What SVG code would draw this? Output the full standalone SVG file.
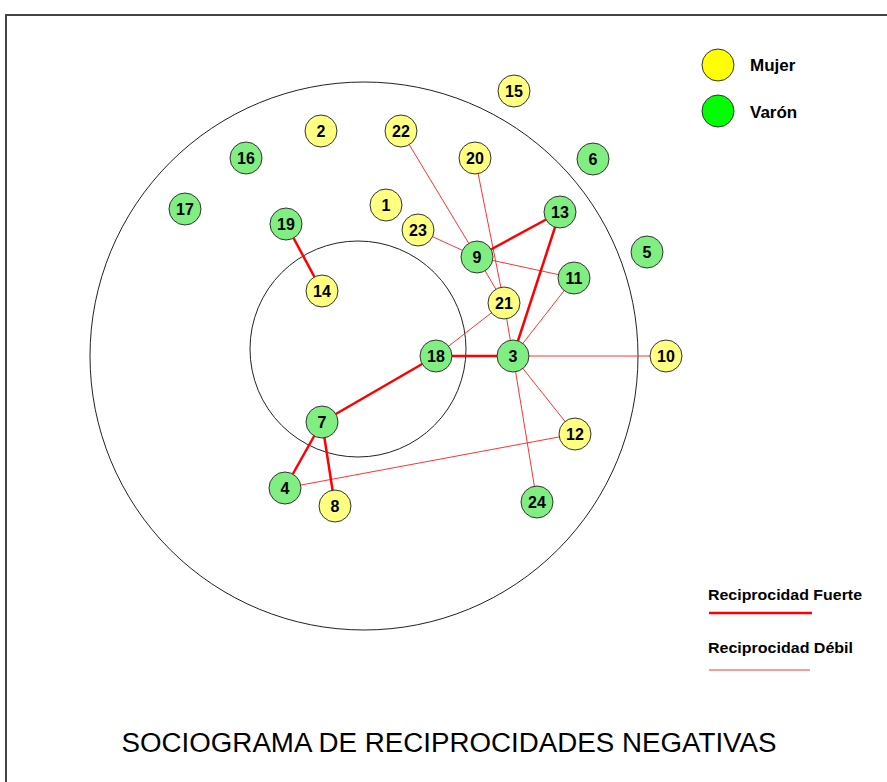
<svg xmlns="http://www.w3.org/2000/svg" width="887" height="782" viewBox="0 0 887 782">
<style>
.ring{fill:none;stroke:#222;stroke-width:1}
.m{fill:#FFFF80;stroke:#333;stroke-width:1}
.v{fill:#80EE80;stroke:#333;stroke-width:1}
.lbl{font-family:"Liberation Sans",Arial,sans-serif;font-weight:bold;font-size:16px;text-anchor:middle;fill:#000}
.strong{stroke:#FF0000;stroke-width:2.5;fill:none}
.weak{stroke:#FF3333;stroke-width:1;fill:none}
.leg{font-family:"Liberation Sans",Arial,sans-serif;font-weight:bold;font-size:17px;fill:#000}
.leg2{font-family:"Liberation Sans",Arial,sans-serif;font-weight:bold;font-size:15px;fill:#000}
</style>
<rect x="0" y="0" width="887" height="782" fill="#fff"/>
<path d="M6,782 V15 H887" fill="none" stroke="#444" stroke-width="2"/>
<circle class="ring" cx="364" cy="356" r="274"/>
<circle class="ring" cx="358" cy="349" r="108"/>
<g id="connectors">
<line class="weak" x1="401" y1="131" x2="477" y2="257"/>
<line class="weak" x1="475" y1="158" x2="504" y2="303"/>
<line class="weak" x1="418" y1="230" x2="477" y2="257"/>
<line class="weak" x1="477" y1="257" x2="574" y2="278"/>
<line class="weak" x1="477" y1="257" x2="504" y2="303"/>
<line class="weak" x1="504" y1="303" x2="513" y2="356"/>
<line class="weak" x1="504" y1="303" x2="436" y2="356"/>
<line class="weak" x1="574" y1="278" x2="513" y2="356"/>
<line class="weak" x1="513" y1="356" x2="666" y2="356"/>
<line class="weak" x1="513" y1="356" x2="575" y2="434"/>
<line class="weak" x1="513" y1="356" x2="537" y2="502"/>
<line class="weak" x1="285" y1="488" x2="575" y2="434"/>
<line class="strong" x1="286" y1="224" x2="322" y2="291"/>
<line class="strong" x1="477" y1="257" x2="560" y2="212"/>
<line class="strong" x1="560" y1="212" x2="513" y2="356"/>
<line class="strong" x1="436" y1="356" x2="513" y2="356"/>
<line class="strong" x1="436" y1="356" x2="322" y2="422"/>
<line class="strong" x1="322" y1="422" x2="285" y2="488"/>
<line class="strong" x1="322" y1="422" x2="335" y2="506"/>
</g>
<g id="n15"><circle class="m" cx="514" cy="91" r="16"/><text class="lbl" x="514" y="97">15</text></g>
<g id="n2"><circle class="m" cx="321" cy="131" r="16"/><text class="lbl" x="321" y="137">2</text></g>
<g id="n22"><circle class="m" cx="401" cy="131" r="16"/><text class="lbl" x="401" y="137">22</text></g>
<g id="n20"><circle class="m" cx="475" cy="158" r="16"/><text class="lbl" x="475" y="164">20</text></g>
<g id="n6"><circle class="v" cx="593" cy="159" r="16"/><text class="lbl" x="593" y="165">6</text></g>
<g id="n16"><circle class="v" cx="246" cy="158" r="16"/><text class="lbl" x="246" y="164">16</text></g>
<g id="n17"><circle class="v" cx="185" cy="209" r="16"/><text class="lbl" x="185" y="215">17</text></g>
<g id="n19"><circle class="v" cx="286" cy="224" r="16"/><text class="lbl" x="286" y="230">19</text></g>
<g id="n1"><circle class="m" cx="386" cy="205" r="16"/><text class="lbl" x="386" y="211">1</text></g>
<g id="n23"><circle class="m" cx="418" cy="230" r="16"/><text class="lbl" x="418" y="236">23</text></g>
<g id="n13"><circle class="v" cx="560" cy="212" r="16"/><text class="lbl" x="560" y="218">13</text></g>
<g id="n9"><circle class="v" cx="477" cy="257" r="16"/><text class="lbl" x="477" y="263">9</text></g>
<g id="n5"><circle class="v" cx="647" cy="252" r="16"/><text class="lbl" x="647" y="258">5</text></g>
<g id="n11"><circle class="v" cx="574" cy="278" r="16"/><text class="lbl" x="574" y="284">11</text></g>
<g id="n14"><circle class="m" cx="322" cy="291" r="16"/><text class="lbl" x="322" y="297">14</text></g>
<g id="n21"><circle class="m" cx="504" cy="303" r="16"/><text class="lbl" x="504" y="309">21</text></g>
<g id="n18"><circle class="v" cx="436" cy="356" r="16"/><text class="lbl" x="436" y="362">18</text></g>
<g id="n3"><circle class="v" cx="513" cy="356" r="16"/><text class="lbl" x="513" y="362">3</text></g>
<g id="n10"><circle class="m" cx="666" cy="356" r="16"/><text class="lbl" x="666" y="362">10</text></g>
<g id="n12"><circle class="m" cx="575" cy="434" r="16"/><text class="lbl" x="575" y="440">12</text></g>
<g id="n7"><circle class="v" cx="322" cy="422" r="16"/><text class="lbl" x="322" y="428">7</text></g>
<g id="n4"><circle class="v" cx="285" cy="488" r="16"/><text class="lbl" x="285" y="494">4</text></g>
<g id="n8"><circle class="m" cx="335" cy="506" r="16"/><text class="lbl" x="335" y="512">8</text></g>
<g id="n24"><circle class="v" cx="537" cy="502" r="16"/><text class="lbl" x="537" y="508">24</text></g>
<g id="legend">
<circle cx="718" cy="65" r="16" fill="#FFFF00" stroke="#333" stroke-width="1"/>
<text class="leg" x="750" y="71">Mujer</text>
<circle cx="718" cy="111" r="16" fill="#00FF00" stroke="#333" stroke-width="1"/>
<text class="leg" x="750" y="118">Varón</text>
<text class="leg2" x="708" y="600" textLength="154" lengthAdjust="spacingAndGlyphs">Reciprocidad Fuerte</text>
<line x1="709" y1="613" x2="812" y2="613" stroke="#FF0000" stroke-width="2.5"/>
<text class="leg2" x="708" y="653" textLength="145" lengthAdjust="spacingAndGlyphs">Reciprocidad Débil</text>
<line x1="709" y1="670" x2="810" y2="670" stroke="#FF3333" stroke-width="1"/>
</g>
<text x="449" y="752" font-family="'Liberation Sans',Arial,sans-serif" font-size="27" text-anchor="middle" textLength="655" lengthAdjust="spacingAndGlyphs">SOCIOGRAMA DE RECIPROCIDADES NEGATIVAS</text>
</svg>
